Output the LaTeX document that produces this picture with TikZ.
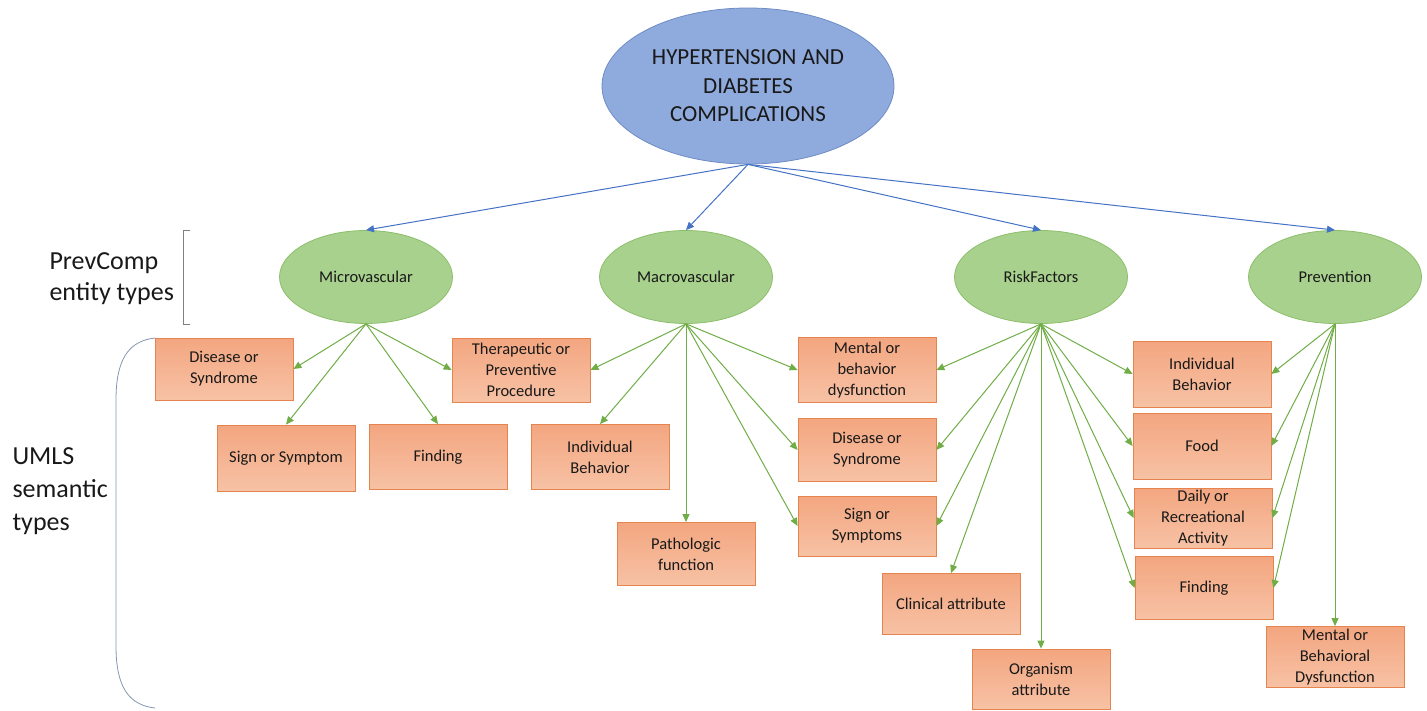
\documentclass[tikz,border=0pt]{standalone}
\usepackage{fontspec}
\setmainfont{Carlito}
\usetikzlibrary{shapes.geometric,arrows.meta}
\definecolor{topfill}{HTML}{8FAADC}
\definecolor{topline}{HTML}{6F8CC6}
\definecolor{entfill}{HTML}{A9D18E}
\definecolor{entline}{HTML}{8CBF6A}
\definecolor{semtop}{HTML}{F3A680}
\definecolor{sembot}{HTML}{F7C2A5}
\definecolor{semline}{HTML}{E5844F}
\definecolor{bluearr}{HTML}{4472C4}
\definecolor{greenarr}{HTML}{70AD47}
\definecolor{brace}{HTML}{8497B0}

\begin{document}
\begin{tikzpicture}[x=1pt,y=-1pt,
 txt/.style={text=black!90,font=\fontsize{16.5}{21}\selectfont,align=center},
 sem/.style={txt,draw=semline,top color=semtop,bottom color=sembot,line width=0.8pt,
  minimum width=138pt,minimum height=63pt,inner sep=1pt},
 ent/.style={txt,ellipse,draw=entline,fill=entfill,line width=0.8pt,
  minimum width=173pt,minimum height=93pt,inner sep=0pt},
 barr/.style={draw=bluearr,line width=1pt,-{Triangle[length=8pt,width=7pt]}},
 garr/.style={draw=greenarr,line width=1pt,-{Triangle[length=8pt,width=7pt]}}]
\useasboundingbox (0,0) rectangle (1427,711);

\node[ellipse,draw=topline,fill=topfill,line width=0.8pt,minimum width=292pt,minimum height=156pt,
 inner sep=0pt,align=center,text=black!90,font=\fontsize{23}{28.5}\selectfont]
 (top) at (748,86) {HYPERTENSION AND\\DIABETES\\COMPLICATIONS};

\node[ent] (mic) at (366,277) {Microvascular};
\node[ent] (mac) at (686,277) {Macrovascular};
\node[ent] (rf) at (1041,277) {RiskFactors};
\node[ent] (pv) at (1335,277) {Prevention};

\node[sem,minimum height=62pt] (dsa) at (224,369) {Disease or\\Syndrome};
\node[sem,minimum height=66pt] (sga) at (286,458) {Sign or Symptom};
\node[sem,minimum height=65pt] (fna) at (438,457) {Finding};
\node[sem,minimum height=64pt] (thp) at (521,370) {Therapeutic or\\Preventive\\Procedure};
\node[sem,minimum height=65pt] (iba) at (600,457) {Individual\\Behavior};
\node[sem] (pth) at (686,554) {Pathologic\\function};
\node[sem,minimum height=65pt] (mnt) at (867,370) {Mental or\\behavior\\dysfunction};
\node[sem] (dsb) at (867,450) {Disease or\\Syndrome};
\node[sem,minimum height=60pt] (sgb) at (867,526) {Sign or\\Symptoms};
\node[sem,minimum height=61pt] (cln) at (951,604) {Clinical attribute};
\node[sem,minimum height=60pt] (org) at (1041,679) {Organism\\attribute};
\node[sem,minimum height=66pt] (ibb) at (1202,374) {Individual\\Behavior};
\node[sem,minimum height=66pt] (fod) at (1202,446) {Food};
\node[sem,minimum height=60pt] (dly) at (1203,518) {Daily or\\Recreational\\Activity};
\node[sem] (fnb) at (1204,588) {Finding};
\node[sem,minimum height=61pt] (mbd) at (1335,657) {Mental or\\Behavioral\\Dysfunction};

\foreach \e in {mic,mac,rf,pv} \draw[barr] (top.south) -- (\e.north);
\foreach \t in {dsa.east,sga.north,fna.north,thp.west} \draw[garr] (mic.south) -- (\t);
\foreach \t in {thp.east,iba.north,pth.north,mnt.west,dsb.west,sgb.west} \draw[garr] (mac.south) -- (\t);
\foreach \t in {mnt.east,dsb.east,sgb.east,cln.north,org.north,ibb.west,fod.west,dly.west,fnb.west}
 \draw[garr] (rf.south) -- (\t);
\foreach \t in {ibb.east,fod.east,dly.east,fnb.east,mbd.north} \draw[garr] (pv.south) -- (\t);

\node[anchor=west,align=left,text=black!90,font=\fontsize{26}{31}\selectfont] (ent) at (46,279) {PrevComp\\entity types};
\node[anchor=west,align=left,text=black!90,font=\fontsize{26}{33}\selectfont] (umls) at (9,491) {UMLS\\semantic\\types};
\draw[gray,line width=0.8pt] (190,230) -- (183,230) -- (183,324) -- (190,324);
\draw[brace,line width=0.8pt] (155,338) .. controls (128,341) and (116,360) .. (116,400) -- (116,646)
 .. controls (116,686) and (128,705) .. (155,708);
\end{tikzpicture}
\end{document}
